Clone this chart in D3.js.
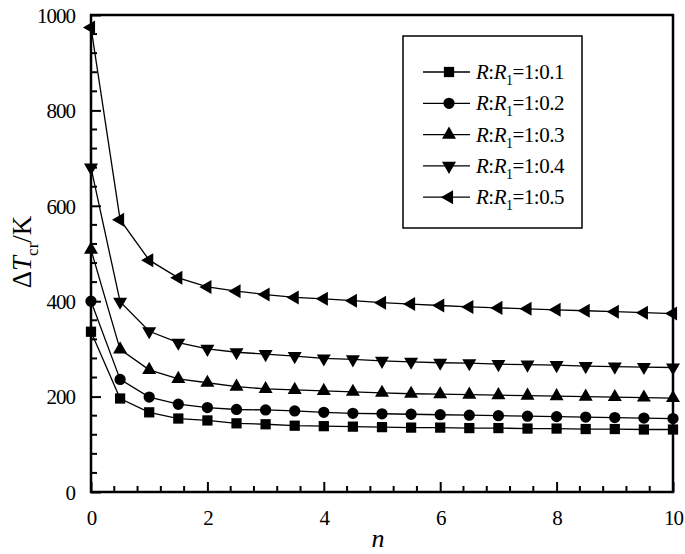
<!DOCTYPE html>
<html>
<head>
<meta charset="utf-8">
<script src="https://cdn.jsdelivr.net/npm/d3@7"></script>
<style>
  body { margin: 0; background: #fff; }
</style>
</head>
<body>
<div id="chart"></div>
<script>
'use strict';

// n values (x axis)
let nValues = [0, 0.5, 1, 1.5, 2, 2.5, 3, 3.5, 4, 4.5, 5, 5.5, 6, 6.5, 7, 7.5, 8, 8.5, 9, 9.5, 10];

let seriesNames = ["1:0.1", "1:0.2", "1:0.3", "1:0.4", "1:0.5"];

// ΔTcr
let ratio01 = [336, 196, 167, 154, 150, 144, 142, 139, 138, 137, 136, 135, 135, 134, 134, 133, 133, 132, 132, 131, 131];
let ratio02 = [400, 236, 199, 184, 177, 173, 172, 170, 167, 165, 164, 163, 162, 161, 160, 159, 158, 157, 156, 155, 154];
let ratio03 = [508, 299, 256, 237, 229, 221, 216, 214, 212, 210, 208, 206, 205, 204, 203, 202, 201, 200, 199, 198, 197];
let ratio04 = [680, 399, 337, 313, 300, 293, 289, 285, 280, 278, 275, 273, 271, 270, 268, 267, 266, 264, 263, 262, 261];
let ratio05 = [974, 571, 486, 449, 430, 421, 414, 408, 405, 401, 397, 394, 391, 388, 386, 384, 382, 380, 378, 376, 374];

let xTicks = [0, 2, 4, 6, 8, 10];
let yTicks = [0, 200, 400, 600, 800, 1000];

const width = 685, height = 554;
const margin = {left: 91, right: 12, top: 15, bottom: 62};
const serif = "Liberation Serif";

let svg = d3.select("#chart").append("svg")
            .attr("width", width)
            .attr("height", height)
            .attr("font-family", serif);

let x = d3.scaleLinear().domain([0, 10]).range([margin.left, width - margin.right]);
let y = d3.scaleLinear().domain([0, 1000]).range([height - margin.bottom, margin.top]);

// minor ticks
let xMinor = d3.range(0, 10.001, 0.4).filter(v => !xTicks.some(t => Math.abs(t - v) < 1e-6));
let yMinor = d3.range(0, 1000.001, 40).filter(v => !yTicks.some(t => Math.abs(t - v) < 1e-6));

let bottom = height - margin.bottom;
svg.append("g").selectAll("line").data(xMinor).enter().append("line")
   .attr("x1", d => x(d)).attr("x2", d => x(d))
   .attr("y1", bottom).attr("y2", bottom - 6)
   .attr("stroke", "#000").attr("stroke-width", 2);
svg.append("g").selectAll("line").data(yMinor).enter().append("line")
   .attr("x1", margin.left).attr("x2", margin.left + 6)
   .attr("y1", d => y(d)).attr("y2", d => y(d))
   .attr("stroke", "#000").attr("stroke-width", 2);

// major ticks via axes (inward)
let xAxis = svg.append("g")
   .attr("transform", "translate(0," + bottom + ")")
   .call(d3.axisBottom(x).tickValues(xTicks).tickFormat(d3.format("d"))
           .tickSizeInner(-10).tickSizeOuter(0).tickPadding(18));
let yAxis = svg.append("g")
   .attr("transform", "translate(" + margin.left + ",0)")
   .call(d3.axisLeft(y).tickValues(yTicks).tickFormat(d3.format("d"))
           .tickSizeInner(-10).tickSizeOuter(0).tickPadding(16));
[xAxis, yAxis].forEach(a => {
    a.attr("font-family", serif).attr("font-size", 21);
    a.select(".domain").remove();
    a.selectAll("line").attr("stroke-width", 2);
    a.selectAll("text").attr("letter-spacing", "-1");
});
yAxis.selectAll("text").attr("dy", "0.35em");

// frame
svg.append("rect")
   .attr("x", margin.left).attr("y", margin.top)
   .attr("width", width - margin.right - margin.left)
   .attr("height", bottom - margin.top)
   .attr("fill", "none").attr("stroke", "#000").attr("stroke-width", 2.5);

// series
let allSeries = [ratio01, ratio02, ratio03, ratio04, ratio05];
let symbols = [
    d3.symbol().type(d3.symbolSquare).size(105),
    d3.symbol().type(d3.symbolCircle).size(100),
    d3.symbol().type(d3.symbolTriangle).size(85),
    d3.symbol().type(d3.symbolTriangle).size(85),
    d3.symbol().type(d3.symbolTriangle).size(85)
];
let rotations = [0, 0, 0, 180, 270];

let line = d3.line().x(d => x(d[0])).y(d => y(d[1]));

allSeries.forEach((values, i) => {
    let pts = nValues.map((n, j) => [n, values[j]]);
    svg.append("path")
       .attr("d", line(pts))
       .attr("fill", "none").attr("stroke", "#000").attr("stroke-width", 1.3);
    svg.append("g").selectAll("path").data(pts).enter().append("path")
       .attr("d", symbols[i])
       .attr("transform", d => "translate(" + x(d[0]) + "," + y(d[1]) + ") rotate(" + rotations[i] + ")")
       .attr("fill", "#000");
});

// legend
let legend = svg.append("g");
legend.append("rect")
      .attr("x", 403).attr("y", 36).attr("width", 179).attr("height", 192)
      .attr("fill", "#fff").attr("stroke", "#000").attr("stroke-width", 1.5);
seriesNames.forEach((name, i) => {
    let ly = 72 + i * 31.3;
    legend.append("line")
          .attr("x1", 423).attr("x2", 470).attr("y1", ly).attr("y2", ly)
          .attr("stroke", "#000").attr("stroke-width", 1.3);
    legend.append("path")
          .attr("d", symbols[i])
          .attr("transform", "translate(449," + ly + ") rotate(" + rotations[i] + ")")
          .attr("fill", "#000");
    let t = legend.append("text").attr("x", 476).attr("y", ly + 7)
                  .attr("font-size", 21).attr("letter-spacing", "-0.5");
    t.append("tspan").attr("font-style", "italic").text("R");
    t.append("tspan").text(":");
    t.append("tspan").attr("font-style", "italic").text("R");
    t.append("tspan").attr("font-size", 14).attr("dy", 6).text("1");
    t.append("tspan").attr("dy", -6).text("=" + name);
});

// axis titles
svg.append("text")
   .attr("x", 378).attr("y", 547)
   .attr("text-anchor", "middle").attr("font-size", 26)
   .attr("font-style", "italic").text("n");

let yt = svg.append("text")
   .attr("transform", "translate(31,252) rotate(-90)")
   .attr("text-anchor", "middle").attr("font-size", 27);
yt.append("tspan").text("Δ");
yt.append("tspan").attr("font-style", "italic").text("T");
yt.append("tspan").attr("font-size", 17).attr("dy", 7).text("cr");
yt.append("tspan").attr("dy", -7).text("/K");

svg.selectAll("text").style("font-family", serif);
</script>
</body>
</html>
